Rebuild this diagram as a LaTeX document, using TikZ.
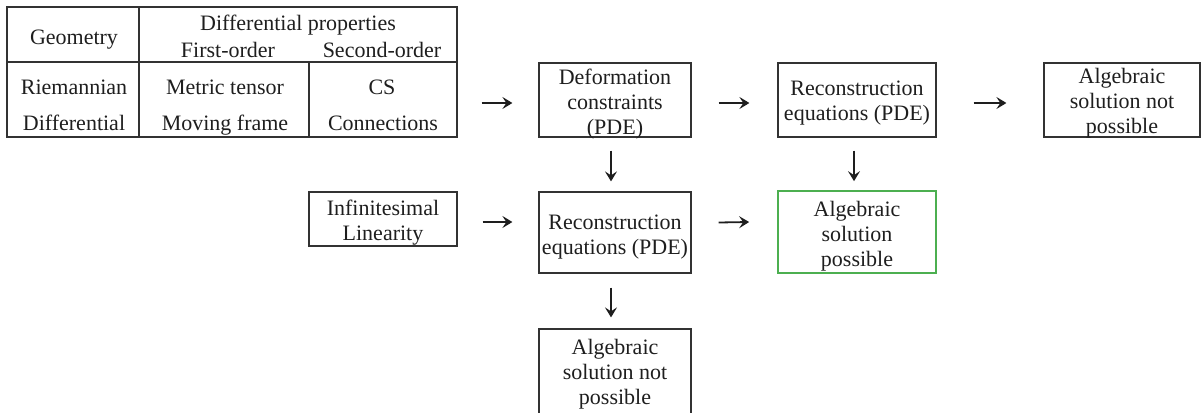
\documentclass[tikz,border=0pt]{standalone}
\usepackage{fontspec}
\setmainfont{Liberation Serif}
\usetikzlibrary{calc,arrows.meta}
\definecolor{ink}{RGB}{30,30,30}
\definecolor{frame}{RGB}{50,50,50}
\definecolor{okgreen}{RGB}{76,175,80}
\begin{document}
\begin{tikzpicture}[x=1pt,y=-1pt,
  every node/.style={font=\fontsize{22}{25}\selectfont, text=ink},
  box/.style={draw=frame, line width=1.2pt, inner sep=0pt},
  lbl/.style={align=center, inner sep=0pt},
  tline/.style={draw=frame, line width=1.2pt},
  txt/.style={anchor=base, inner sep=0pt},
  arr/.style={-{Stealth[length=10pt,width=12pt,inset=4pt]}, line width=1.8pt, draw=ink}]
\clip (0,0) rectangle (1201,412);
% table
\node[box, minimum width=450pt, minimum height=130pt] (tab) at (232,72) {};
\draw[tline] (139,7) -- (139,137);
\draw[tline] (7,62) -- (457,62);
\draw[tline] (309,62) -- (309,137);
\node[txt] (tgeo) at (74,45) {Geometry};
\node[txt] (tdp) at (298,31) {Differential properties};
\node[txt] (tfo) at (228,58) {First-order};
\node[txt] (tso) at (382,58) {Second-order};
\node[txt] (trie) at (74,94) {Riemannian};
\node[txt] (tmet) at (225,94) {Metric tensor};
\node[txt] (tcs) at (382,94) {CS};
\node[txt] (tdif) at (74,130) {Differential};
\node[txt] (tmov) at (225,130) {Moving frame};
\node[txt] (tcon) at (383,130) {Connections};
% boxes
\node[box, minimum width=152pt, minimum height=74pt,
  label={[lbl, yshift=-4pt]center:{Deformation\\constraints\\(PDE)}}] (def) at (615,100) {};
\node[box, minimum width=158pt, minimum height=74pt,
  label={[lbl, yshift=-3pt]center:{Reconstruction\\equations (PDE)}}] (rec1) at (857,100) {};
\node[box, minimum width=156pt, minimum height=74pt,
  label={[lbl, yshift=-3pt]center:{Algebraic\\solution not\\possible}}] (alg1) at (1122,100) {};
\node[box, minimum width=148pt, minimum height=54pt,
  label={[lbl, yshift=-4pt]center:{Infinitesimal\\Linearity}}] (inf) at (383,219) {};
\node[box, minimum width=152pt, minimum height=81pt,
  label={[lbl, yshift=-5pt]center:{Reconstruction\\equations (PDE)}}] (rec2) at (615,232.5) {};
\node[box, draw=okgreen, line width=1.7pt, minimum width=158pt, minimum height=82pt,
  label={[lbl, yshift=-4pt]center:{Algebraic\\solution\\possible}}] (green) at (857,232) {};
\node[box, minimum width=152pt, minimum height=87pt,
  label={[lbl, yshift=-2pt]center:{Algebraic\\solution not\\possible}}] (bot) at (615,372.5) {};
% arrows
\draw[arr] ($(tab.east |- def.west)+(24,3)$) -- ($(def.west)+(-26,3)$);
\draw[arr] ($(def.east)+(27,3)$) -- ($(rec1.west)+(-28,3)$);
\draw[arr] ($(rec1.east)+(37,3)$) -- ($(alg1.west)+(-37,3)$);
\draw[arr] ($(def.south)+(-4,13)$) -- ($(rec2.north)+(-4,-10)$);
\draw[arr] ($(rec1.south)+(-3,13)$) -- ($(green.north)+(-3,-9)$);
\draw[arr] ($(inf.east)+(25,3)$) -- ($(inf.east -| rec2.west)+(-26,3)$);
\draw[arr] ($(rec2.east)+(27,-10)$) -- ($(green.west)+(-28,-10)$);
\draw[arr] ($(rec2.south)+(-4,14)$) -- ($(bot.north)+(-4,-11)$);
\end{tikzpicture}
\end{document}
